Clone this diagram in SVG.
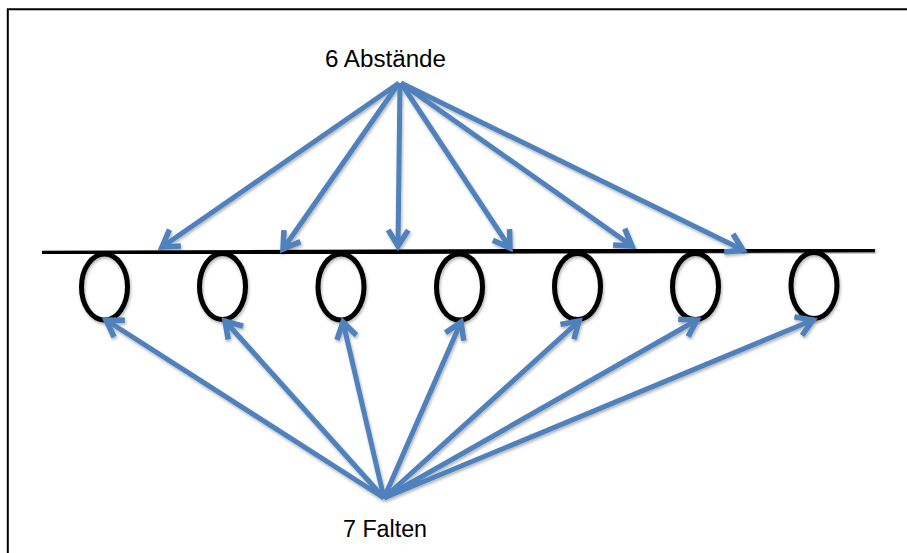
<svg xmlns="http://www.w3.org/2000/svg" width="907" height="553" viewBox="0 0 907 553">
  <style>
    .frame { fill: none; stroke: #000; stroke-width: 2; }
    .rail { stroke: #000; stroke-width: 4.5; fill: none; }
    .fold { fill: none; stroke: #000; stroke-width: 5; }
    .conn { stroke: #4F81BD; stroke-width: 5; fill: none; marker-end: url(#arr); }
    .lbl { font-family: "Liberation Sans", Arial, sans-serif; font-size: 23px; fill: #000; }
  </style>
  <defs>
    <marker id="arr" markerUnits="userSpaceOnUse" markerWidth="40" markerHeight="40" viewBox="-25 -20 40 40" refX="0" refY="0" orient="auto" overflow="visible">
      <path d="M-16,-10 L0,0 L-16,10" fill="none" stroke="#4F81BD" stroke-width="5.5" stroke-linejoin="miter" stroke-linecap="butt"/>
    </marker>
    <filter id="sh" x="-10%" y="-10%" width="120%" height="130%">
      <feDropShadow dx="1" dy="2" stdDeviation="1.5" flood-color="#000" flood-opacity="0.3"/>
    </filter>
  </defs>

  <path class="frame" d="M7.8,553 L7.8,9.3 L907,9.3"/>

  <g id="rail" filter="url(#sh)">
    <line class="rail" x1="42" y1="253" x2="875" y2="250"/>
  </g>

  <g id="folds" filter="url(#sh)">
    <g id="fold1"><ellipse class="fold" cx="104.5" cy="287" rx="23" ry="33"/></g>
    <g id="fold2"><ellipse class="fold" cx="222.5" cy="286.5" rx="23" ry="33"/></g>
    <g id="fold3"><ellipse class="fold" cx="341" cy="287" rx="23" ry="33"/></g>
    <g id="fold4"><ellipse class="fold" cx="459.5" cy="287" rx="23" ry="33"/></g>
    <g id="fold5"><ellipse class="fold" cx="577.5" cy="286.5" rx="23" ry="33"/></g>
    <g id="fold6"><ellipse class="fold" cx="695.5" cy="286.5" rx="23" ry="33"/></g>
    <g id="fold7"><ellipse class="fold" cx="814" cy="285.5" rx="23" ry="33"/></g>
  </g>

  <g id="label-top"><text class="lbl" x="325" y="66.5" textLength="121" lengthAdjust="spacingAndGlyphs">6 Abstände</text></g>
  <g id="label-bottom"><text class="lbl" x="343" y="536.5" textLength="84" lengthAdjust="spacingAndGlyphs">7 Falten</text></g>

  <g id="connectors" filter="url(#sh)">
    <line class="conn" x1="399" y1="83" x2="162" y2="247"/>
    <line class="conn" x1="399" y1="83" x2="283" y2="249"/>
    <line class="conn" x1="400" y1="83" x2="398" y2="246"/>
    <line class="conn" x1="401" y1="83" x2="510" y2="248"/>
    <line class="conn" x1="401" y1="83" x2="632" y2="246"/>
    <line class="conn" x1="401" y1="83" x2="743" y2="250"/>

    <line class="conn" x1="384" y1="498" x2="106" y2="320"/>
    <line class="conn" x1="384" y1="498" x2="225" y2="321"/>
    <line class="conn" x1="384" y1="498" x2="343" y2="322"/>
    <line class="conn" x1="384" y1="498" x2="461" y2="322"/>
    <line class="conn" x1="384" y1="498" x2="579" y2="321"/>
    <line class="conn" x1="384" y1="498" x2="697" y2="320"/>
    <line class="conn" x1="384" y1="498" x2="813" y2="320"/>
  </g>
</svg>
